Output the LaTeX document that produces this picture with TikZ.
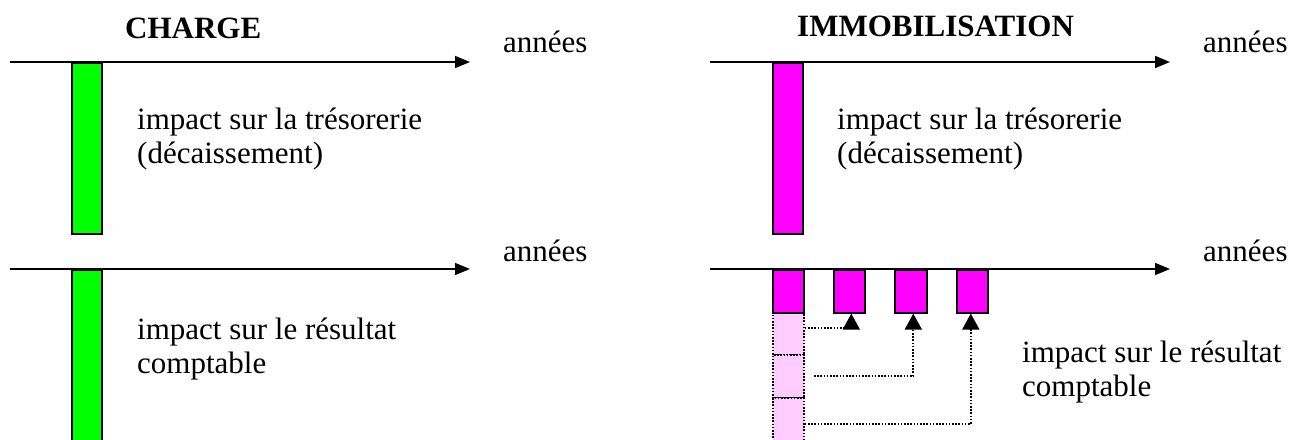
\documentclass[tikz,border=0pt]{standalone}
\usepackage{fontspec}
\setmainfont{Liberation Serif}
\usetikzlibrary{arrows.meta}
\definecolor{barGreen}{HTML}{00FF00}
\definecolor{barMag}{HTML}{FF00FF}
\definecolor{barPink}{HTML}{FFCCFF}
\tikzset{
  axisline/.style={line width=1.6pt,-{Triangle[length=15pt,width=12pt]}},
  barbox/.style={draw=black,line width=1.6pt,rectangle,inner sep=0pt,anchor=north west,minimum width=30pt},
  pinkbox/.style={draw=black,line width=1.8pt,dash pattern=on 1.6pt off 1.6pt,fill=barPink,rectangle,inner sep=0pt,anchor=north west,minimum width=31pt},
  link/.style={line width=1.8pt,dash pattern=on 1.6pt off 1.6pt,-{Triangle[length=16pt,width=17pt]}},
  label/.style={inner sep=0pt,anchor=base west,font=\fontsize{31}{34}\selectfont,align=left},
  title/.style={inner sep=0pt,anchor=base west,font=\fontsize{31}{34}\selectfont\bfseries},
}
\begin{document}
\begin{tikzpicture}[x=1pt,y=-1pt]
\useasboundingbox (0,0) rectangle (1303,439);
% titles
\node[title] (tCharge) at (125,38) {CHARGE};
\node[title] (tImmo) at (797,36) {IMMOBILISATION};
% axes
\coordinate (a1s) at (10,62); \coordinate (a1e) at (470,62);
\coordinate (a2s) at (10,269); \coordinate (a2e) at (470,269);
\coordinate (a3s) at (710,62); \coordinate (a3e) at (1170,62);
\coordinate (a4s) at (710,269); \coordinate (a4e) at (1170,269);
% bars
\node[barbox,fill=barGreen,minimum height=171pt] (g1) at (71,62) {};
\node[barbox,fill=barGreen,minimum height=180pt] (g2) at (71,269) {};
\node[barbox,fill=barMag,minimum height=171pt] (m1) at (772,62) {};
% pink column
\node[pinkbox,minimum height=42pt] (p1) at (772,312) {};
\node[pinkbox,minimum height=43pt] (p2) at (772,354) {};
\node[pinkbox,minimum height=50pt] (p3) at (772,397) {};
% small boxes
\node[barbox,fill=barMag,minimum width=31pt,minimum height=43pt] (b1) at (772,269) {};
\node[barbox,fill=barMag,minimum width=31pt,minimum height=43pt] (b2) at (833,269) {};
\node[barbox,fill=barMag,minimum width=32pt,minimum height=43pt] (b3) at (894,269) {};
\node[barbox,fill=barMag,minimum width=31pt,minimum height=43pt] (b4) at (956,269) {};
% axes drawn over
\draw[axisline] (a1s) -- (a1e);
\draw[axisline] (a2s) -- (a2e);
\draw[axisline] (a3s) -- (a3e);
\draw[axisline] (a4s) -- (a4e);
% connectors
\coordinate (c1) at (p1.east |- 0,328);
\coordinate (c2) at (814,376);
\coordinate (c3) at (p3.east |- 0,424);
\draw[link] (c1) -| ([xshift=2pt]b2.south);
\draw[link] (c2) -| ([xshift=2.5pt]b3.south);
\draw[link] (c3) -| ([xshift=-1.5pt]b4.south);
% labels
\node[label] (y1) at (503,52) {années};
\node[label] (y2) at (503,261) {années};
\node[label] (y3) at (1203,52) {années};
\node[label] (y4) at (1203,261) {années};
\node[label] (l1) at (137,163) {impact sur la trésorerie\\(décaissement)};
\node[label] (l2) at (837,163) {impact sur la trésorerie\\(décaissement)};
\node[label] (l3) at (137,373) {impact sur le résultat\\comptable};
\node[label] (l4) at (1022,396) {impact sur le résultat\\comptable};
\end{tikzpicture}
\end{document}
